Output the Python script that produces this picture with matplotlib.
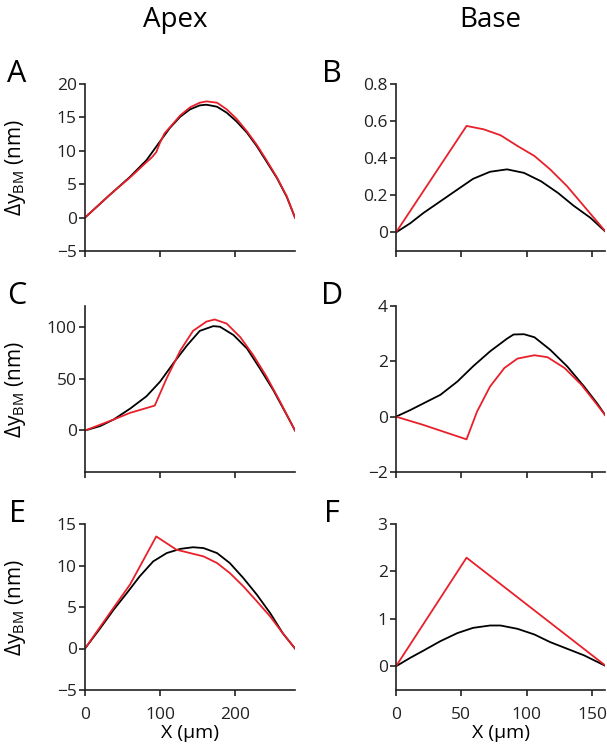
import matplotlib
matplotlib.use("Agg")
import matplotlib.pyplot as plt

plt.rcParams['font.family'] = ['Open Sans', 'DejaVu Sans']
plt.rcParams['mathtext.fontset'] = 'custom'
plt.rcParams['mathtext.rm'] = 'Open Sans'
plt.rcParams['mathtext.it'] = 'Open Sans'

# ---- data ----
# Panel A (apex)
a_bx = [0, 33, 60, 82, 100, 113, 127, 140, 153, 162, 176, 189, 202, 216, 229, 242, 256, 269, 280]
a_by = [0, 3.4, 6.1, 8.6, 11.4, 13.4, 15.1, 16.2, 16.8, 16.9, 16.6, 15.7, 14.4, 12.7, 10.7, 8.4, 5.9, 3.1, 0]
a_rx = [0, 33, 60, 82, 89, 95, 100, 106, 113, 127, 140, 153, 162, 176, 189, 202, 216, 229, 242, 256, 269, 280]
a_ry = [0, 3.4, 6.0, 8.3, 9.0, 9.8, 11.2, 12.6, 13.5, 15.3, 16.5, 17.2, 17.4, 17.2, 16.2, 14.8, 12.9, 10.9, 8.6, 6.0, 3.2, 0]
# Panel B (base)
b_bx = [0, 11, 21, 34, 47, 59, 72, 85, 98, 111, 124, 136, 149, 161]
b_by = [0, 0.05, 0.105, 0.168, 0.231, 0.289, 0.327, 0.34, 0.321, 0.276, 0.213, 0.144, 0.078, 0]
b_rx = [0, 54, 67, 80, 93, 106, 118, 131, 144, 161]
b_ry = [0, 0.574, 0.556, 0.524, 0.466, 0.412, 0.34, 0.249, 0.141, 0]
# Panel C (apex)
c_bx = [0, 20, 38, 60, 82, 100, 118, 136, 153, 171, 180, 198, 216, 233, 251, 269, 280]
c_by = [0, 4.2, 10.5, 21, 33, 47, 65, 82, 96, 100.6, 100, 92, 79, 60, 39, 15, 0]
c_rx = [0, 38, 60, 93, 109, 127, 144, 162, 173, 189, 207, 224, 242, 260, 280]
c_ry = [0, 10.5, 17, 24, 50.5, 77, 96, 105, 107, 103, 90, 73, 52, 28, 0]
# Panel D (base)
d_bx = [0, 11, 21, 34, 47, 59, 72, 85, 90, 98, 106, 118, 131, 144, 154, 161]
d_by = [0, 0.24, 0.48, 0.79, 1.27, 1.82, 2.36, 2.82, 2.97, 2.98, 2.87, 2.42, 1.82, 1.09, 0.48, 0]
d_rx = [0, 21, 54, 62, 72, 83, 93, 106, 116, 129, 142, 152, 161]
d_ry = [0, -0.3, -0.82, 0.18, 1.09, 1.76, 2.1, 2.22, 2.15, 1.76, 1.15, 0.55, 0]
# Panel E (apex)
e_bx = [0, 20, 38, 56, 73, 91, 109, 127, 144, 158, 176, 193, 211, 229, 247, 264, 280]
e_by = [0, 2.4, 4.65, 6.7, 8.7, 10.5, 11.5, 12.0, 12.2, 12.1, 11.5, 10.3, 8.5, 6.5, 4.25, 1.8, 0]
e_rx = [0, 38, 60, 95, 122, 158, 176, 193, 211, 229, 247, 264, 280]
e_ry = [0, 4.9, 7.7, 13.5, 11.9, 11.1, 10.3, 9.1, 7.5, 5.7, 3.85, 1.8, 0]
# Panel F (base)
f_bx = [0, 11, 21, 34, 47, 59, 72, 80, 93, 106, 118, 131, 144, 161]
f_by = [0, 0.18, 0.33, 0.53, 0.70, 0.81, 0.86, 0.86, 0.79, 0.67, 0.51, 0.37, 0.23, 0]
f_rx = [0, 54, 161]
f_ry = [0, 2.29, 0]

apex_xticks = [0, 100, 200]
base_xticks = [0, 50, 100, 150]

panels = [
    ('A', a_bx, a_by, a_rx, a_ry, (0, 280), apex_xticks, (-5, 20), [-5, 0, 5, 10, 15, 20], None, 0, 0),
    ('B', b_bx, b_by, b_rx, b_ry, (0, 160), base_xticks, (-0.1, 0.8), [0, 0.2, 0.4, 0.6, 0.8], ['0', '0.2', '0.4', '0.6', '0.8'], 1, 0),
    ('C', c_bx, c_by, c_rx, c_ry, (0, 280), apex_xticks, (-40, 120), [0, 50, 100], None, 0, 1),
    ('D', d_bx, d_by, d_rx, d_ry, (0, 160), base_xticks, (-2, 4), [-2, 0, 2, 4], None, 1, 1),
    ('E', e_bx, e_by, e_rx, e_ry, (0, 280), apex_xticks, (-5, 15), [-5, 0, 5, 10, 15], None, 0, 2),
    ('F', f_bx, f_by, f_rx, f_ry, (0, 160), base_xticks, (-0.5, 3), [0, 1, 2, 3], None, 1, 2),
]

W, H = 607, 755
fig = plt.figure(figsize=(W / 100, H / 100), dpi=100)

lefts = [85, 396]
widths = [210, 209]
tops = [84, 306, 524]
bottoms = [251, 472, 690]

for (letter, bx, by, rx, ry, xlim, xt, ylim, yt, ytl, col, row) in panels:
    l = lefts[col] / W
    w = widths[col] / W
    b = 1 - bottoms[row] / H
    h = (bottoms[row] - tops[row]) / H
    ax = fig.add_axes([l, b, w, h])
    ax.plot(bx, by, color='black', lw=1.3, solid_joinstyle='round')
    ax.plot(rx, ry, color='#e8202a', lw=1.3, solid_joinstyle='round')
    ax.set_xlim(*xlim)
    ax.set_ylim(*ylim)
    ax.set_xticks(xt)
    ax.set_yticks(yt)
    if ytl is not None:
        ax.set_yticklabels(ytl)
    for s in ['top', 'right']:
        ax.spines[s].set_visible(False)
    for s in ['left', 'bottom']:
        ax.spines[s].set_linewidth(1.2)
        ax.spines[s].set_color('#222222')
    ax.tick_params(direction='out', length=4, width=1.2, labelsize=12.5, colors='#222222')
    ax.tick_params(axis='y', pad=2)
    ax.tick_params(axis='x', pad=8)
    if row < 2:
        ax.set_xticklabels([])
    else:
        ax.set_xlabel('X (\u03bcm)', fontsize=14, labelpad=1)
    if col == 0:
        ax.set_ylabel(r'$\Delta$y$_{\rm BM}$ (nm)', fontsize=15)
        ax.yaxis.set_label_coords((28 - lefts[0]) / widths[0], 0.5)
    lx = 17 if col == 0 else 332
    ly = tops[row] - 10
    fig.text(lx / W, 1 - ly / H, letter, fontsize=22, ha='center', va='center')

fig.text(175 / W, 1 - 20 / H, 'Apex', fontsize=20, ha='center', va='center')
fig.text(490 / W, 1 - 20 / H, 'Base', fontsize=20, ha='center', va='center')

fig.savefig('out.png', dpi=100)
